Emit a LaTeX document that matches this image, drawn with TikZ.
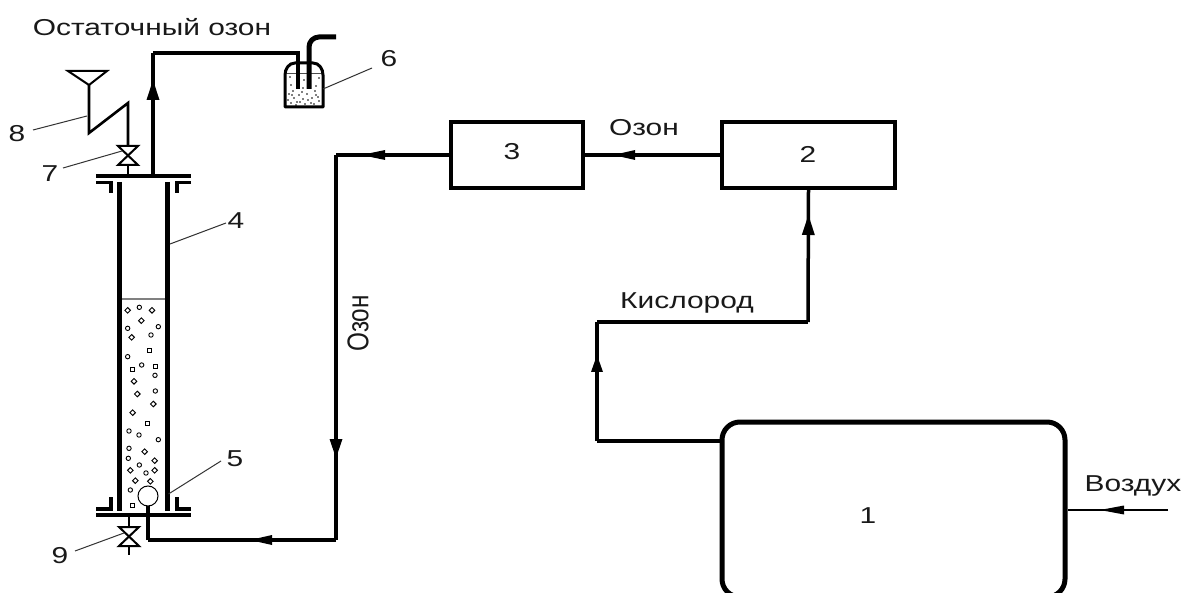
\documentclass[tikz,border=0pt]{standalone}
\usepackage{fontspec}
\setmainfont{Liberation Sans}[FakeStretch=1.3]
\newfontfamily\narrowfont{Liberation Sans}[FakeStretch=0.81]
\usetikzlibrary{arrows.meta,decorations.markings,calc}
\tikzset{
  pipe/.style={draw=black,line width=3.5pt,line cap=butt,line join=miter},
  thinpipe/.style={draw=black,line width=2.6pt,line join=miter},
  wall/.style={draw=black,line width=5pt},
  flange/.style={draw=black,line width=3.4pt},
  leader/.style={draw=black!80,line width=1pt},
  bubbleline/.style={draw=black,line width=.9pt,fill=white},
  stepbox/.style={draw=black,line width=3.6pt,fill=white,inner sep=0pt,minimum height=66pt},
  lbl/.style={font=\fontsize{23}{26}\selectfont,text=black!90,inner sep=0pt},
  flowmark/.style n args={3}{postaction={decorate},decoration={markings,mark=at position #1 with {\fill[black] (0pt,#3pt) -- (0pt,-#3pt) -- (#2pt,0pt) -- cycle;}}},
}
\begin{document}
\begin{tikzpicture}[x=1pt,y=-1pt]
\useasboundingbox (0,0) rectangle (1186,593);
\clip (0,0) rectangle (1186,593);
\fill[white] (0,0) rectangle (1186,593);
% Boxes
\node[stepbox,minimum width=343pt,minimum height=175pt,rounded corners=18pt,line width=5pt] (b1) at (893.5,509.5) {};
\node[stepbox,minimum width=173pt] (b2) at (808.5,155) {};
\node[stepbox,minimum width=132pt] (b3) at (517,155) {};
\node[lbl] (l1) at (868,516) {1};
\node[lbl] (l2) at (808,154) {2};
\node[lbl] (l3) at (512,152) {3};
% coordinates
\coordinate (o1) at (b1.west |- 0,441);
\coordinate (o2) at (597,441);
\coordinate (o3) at (597,322);
\coordinate (o4) at (808,322);
\coordinate (air) at (1168,510);
\coordinate (q1) at (336,155);
\coordinate (q2) at (336,540);
\coordinate (q3) at (148,540);
\coordinate (q4) at (148,506);
\coordinate (t1) at (153,176);
\coordinate (t2) at (153,53);
\coordinate (t3) at (298,53);
\coordinate (t4) at (298,89);
% Flow lines
\draw[pipe,flowmark={69pt}{17}{6}] (o2) -- (o3);
\draw[pipe] (o1) -- (o2);
\draw[pipe] (o3) -- (o4);
\draw[pipe,flowmark={87pt}{20}{6.5}] (o4) -- (b2.south);
\draw[pipe,flowmark={85pt}{22}{5}] (b2.west) -- (b3.east);
\draw[thinpipe,flowmark={44pt}{24}{4.5}] (air) -- (air -| b1.east);
\draw[pipe,flowmark={64pt}{24}{5}] (b3.west) -- (q1);
\draw[pipe,flowmark={284pt}{19}{6.5}] (q1) -- (q2);
\draw[pipe,flowmark={64pt}{22}{5}] (q2) -- (q3);
\draw[pipe] (q3) -- (q4);
\draw[pipe,flowmark={76pt}{20}{6.5}] (t1) -- (t2);
\draw[pipe] (t2) -- (t3) -- (t4);
% Column
\draw[draw=black!50,line width=1.4pt] (121,299) -- (165,299);
\foreach \a/\b in {238/82,295/140,203/145,273/165,203/230,245/255,285/286,286/333,207/453,237/465,295/479,207/505,205/535,238/555,258/579,211/630}
  \draw[bubbleline] ({\a/3+60},{\b/3+280}) circle (2.2);
\foreach \a/\b in {203/91,276/91,244/122,215/172,222/304,232/342,280/372,218/398,254/515,284/542,211/571,284/571,226/602,271/604}
  \draw[bubbleline] ({\a/3+60-2.8},{\b/3+280}) -- ++(2.8,-2.8) -- ++(2.8,2.8) -- ++(-2.8,2.8) -- cycle;
\foreach \a/\b in {267/212,216/268,286/260,261/431,218/675}
  \draw[bubbleline] ({\a/3+60-2},{\b/3+280-2}) rectangle ++(4,4);
\draw[wall] (119,182) -- (119,511);
\draw[wall] (167,182) -- (167,511);
\draw[flange] (96,176) -- (191,176);
\draw[flange] (96,515) -- (191,515);
\draw[flange] (96,182.5) -- (111,182.5) -- (111,193);
\draw[flange] (191,182.5) -- (177,182.5) -- (177,193);
\draw[flange] (96,509) -- (111,509) -- (111,497);
\draw[flange] (191,509) -- (177,509) -- (177,497);
% Bubbler
\node[circle,draw=black,line width=1pt,fill=white,minimum size=20pt,inner sep=0pt] (bub) at (148,496) {};
% Funnel and valve 7
\coordinate (f1) at (89,85);
\coordinate (f2) at (89,133);
\coordinate (f3) at (128,103);
\draw[draw=black,line width=2pt,line join=miter] (68,71) -- (107,71) -- (f1) -- cycle;
\draw[thinpipe,miter limit=10] (f1) -- (f2) -- (f3) -- (128,147);
\draw[draw=black,line width=2pt,fill=white,line join=miter] (118,146) -- (138,146) -- (118,165) -- (138,165) -- cycle;
\draw[thinpipe] (128,165) -- (128,176);
% Valve 9
\draw[thinpipe] (129,515) -- (129,527);
\draw[draw=black,line width=2pt,fill=white,line join=miter] (119,527) -- (139,527) -- (119,546) -- (139,546) -- cycle;
\draw[thinpipe] (129,546) -- (129,555);
% Jar
\foreach \a/\b in {290/77,291/85,304/80,319/78,316/86,303/88,289/94,294/98,299/95,303/99,307/94,312/98,316/95,319/101,291/103,297/102,305/104,311/103,302/92,315/91,293/91,288/100,296/105,308/100,314/104,318/97,300/102,292/95}
  \fill[black] (\a,\b) circle (.8);
\draw[draw=black!70,line width=.8pt] (287,73) -- (321,73);
\draw[draw=black,line width=3pt,line join=round] (285,107) -- (285,75) to[out=90,in=180] (295,63) -- (313,63) to[out=0,in=90] (323,75) -- (323,107) -- cycle;
\draw[pipe] (t3) -- (t4);
\coordinate (s1) at (309,89);
\coordinate (s2) at (336,37);
\draw[pipe,line width=5pt,rounded corners=10pt] (s1) -- (309,37) -- (s2);
% Leaders and labels
\node[lbl] (n4) at (236,221) {4};
\node[lbl] (n5) at (235,459) {5};
\node[lbl] (n6) at (389,59) {6};
\node[lbl] (n7) at (50,174) {7};
\node[lbl] (n8) at (17,134) {8};
\node[lbl] (n9) at (60,556) {9};
\draw[leader] (170,244) -- (226,223);
\draw[leader] (bub.east |- 0,494) ++(10,0) -- (221,461);
\draw[leader] (323,89) -- (372,68);
\draw[leader] (63,168) -- (122,151);
\draw[leader] (33,130) -- (87,116);
\draw[leader] (75,551) -- (124,533);
% Captions
\node[lbl] (cap1) at (152,27) {Остаточный озон};
\node[lbl] (cap2) at (644,128) {Озон};
\node[lbl,rotate=90,font=\narrowfont\fontsize{30}{32}\selectfont] (cap3) at (358,323.5) {Озон};
\node[lbl] (cap4) at (687,303) {Кислород};
\node[lbl] (cap5) at (1133,486) {Воздух};
\end{tikzpicture}
\end{document}
